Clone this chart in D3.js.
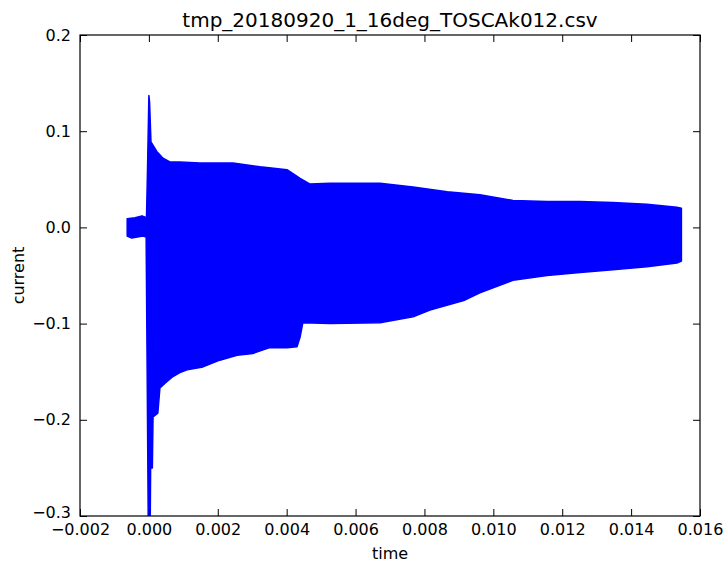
<!doctype html>
<html lang="en">
<head>
<meta charset="utf-8">
<title>tmp_20180920_1_16deg_TOSCAk012.csv</title>
<style>
body { margin: 0; background: #fff; font-family: "DejaVu Sans", sans-serif; }
</style>
</head>
<body>
<div id="chart"></div>
<script src="https://cdnjs.cloudflare.com/ajax/libs/d3/7.8.5/d3.min.js"></script>
<script>
// envelope of the signal (time in s, current)
var upperTime = [-0.00063, -0.0004, -0.0002, -0.00007, -0.00004, 0.0, 0.00002, 0.00006, 0.00023, 0.00041,
                 0.00061, 0.0009, 0.00148, 0.00244, 0.00323, 0.00401, 0.00439, 0.00468, 0.00526, 0.00671,
                 0.00767, 0.00866, 0.00961, 0.01057, 0.01156, 0.01252, 0.01347, 0.01446, 0.01533, 0.01546];
var upperVal  = [0.009, 0.010, 0.012, 0.010, 0.060, 0.137, 0.130, 0.089, 0.079, 0.072,
                 0.068, 0.068, 0.067, 0.067, 0.063, 0.060, 0.051, 0.045, 0.046, 0.046,
                 0.042, 0.037, 0.034, 0.028, 0.027, 0.027, 0.026, 0.024, 0.021, 0.020];

var lowerTime = [-0.00063, -0.0005, -0.00017, -0.00008, -0.00005, -0.00002, 0.00004, 0.00005, 0.0001, 0.00012,
                 0.00026, 0.00032, 0.00047, 0.0007, 0.0009, 0.00111, 0.00157, 0.00206, 0.00256, 0.00302,
                 0.00351, 0.00401, 0.0043, 0.00439, 0.00447, 0.00526, 0.00671, 0.00767, 0.00816, 0.00914,
                 0.00961, 0.01057, 0.01156, 0.01252, 0.01347, 0.01446, 0.01533, 0.01546];
var lowerVal  = [-0.009, -0.011, -0.009, -0.010, -0.150, -0.300, -0.300, -0.250, -0.250, -0.197,
                 -0.193, -0.167, -0.162, -0.155, -0.151, -0.148, -0.145, -0.138, -0.133, -0.131,
                 -0.125, -0.125, -0.124, -0.114, -0.099, -0.100, -0.099, -0.093, -0.086, -0.076,
                 -0.068, -0.055, -0.050, -0.047, -0.044, -0.041, -0.037, -0.035];

var xTicks = [-0.002, 0.0, 0.002, 0.004, 0.006, 0.008, 0.010, 0.012, 0.014, 0.016];
var yTicks = [-0.3, -0.2, -0.1, 0.0, 0.1, 0.2];

var width = 725, height = 565;
var margin = {top: 35, right: 25, bottom: 49, left: 80};

var svg = d3.select("#chart").append("svg")
    .attr("width", width)
    .attr("height", height);

var x = d3.scaleLinear().domain([-0.002, 0.016]).range([margin.left, width - margin.right]);
var y = d3.scaleLinear().domain([-0.3, 0.2]).range([height - margin.bottom, margin.top]);

// build outline: upper edge forward, lower edge back
var outline = upperTime.map(function(t, i) { return [x(t), y(upperVal[i])]; });
for (var i = lowerTime.length - 1; i >= 0; i--) {
    outline.push([x(lowerTime[i]), y(lowerVal[i])]);
}

svg.append("clipPath").attr("id", "clip")
  .append("rect")
    .attr("x", margin.left).attr("y", margin.top)
    .attr("width", width - margin.left - margin.right)
    .attr("height", height - margin.top - margin.bottom);

svg.append("path")
    .attr("clip-path", "url(#clip)")
    .attr("d", d3.line()(outline) + "Z")
    .style("fill", "#0000ff")
    .style("stroke", "#0000ff")
    .style("stroke-width", 1.5)
    .style("stroke-linejoin", "round");

var fmtX = function(d) { return d3.format(".3f")(d).replace("-", "\u2212"); };
var fmtY = function(d) { return d3.format(".1f")(d).replace("-", "\u2212"); };

// axes: ticks point inward, on all four sides
function styleAxis(g) {
    g.select(".domain").remove();
    g.selectAll("text").style("font-family", "DejaVu Sans").style("font-size", "16px").attr("fill", "#000");
    g.selectAll("line").attr("stroke", "#000");
}

svg.append("g")
    .attr("transform", "translate(0," + (height - margin.bottom) + ")")
    .call(d3.axisBottom(x).tickValues(xTicks).tickFormat(fmtX).tickSizeInner(-7).tickPadding(8))
    .call(styleAxis);

svg.append("g")
    .attr("transform", "translate(0," + margin.top + ")")
    .call(d3.axisTop(x).tickValues(xTicks).tickFormat("").tickSizeInner(-7))
    .call(styleAxis);

var yAxisG = svg.append("g")
    .attr("transform", "translate(" + margin.left + ",0)")
    .call(d3.axisLeft(y).tickValues(yTicks).tickFormat(fmtY).tickSizeInner(-7).tickPadding(9))
    .call(styleAxis);

// lift the bottom label a little so it clears the first x label
yAxisG.selectAll(".tick text")
    .filter(function(d) { return d === yTicks[0]; })
    .attr("dy", "0.1em");

svg.append("g")
    .attr("transform", "translate(" + (width - margin.right) + ",0)")
    .call(d3.axisRight(y).tickValues(yTicks).tickFormat("").tickSizeInner(-7))
    .call(styleAxis);

svg.append("rect")
    .attr("x", margin.left).attr("y", margin.top)
    .attr("width", width - margin.left - margin.right)
    .attr("height", height - margin.top - margin.bottom)
    .style("fill", "none")
    .style("stroke", "#000")
    .style("stroke-width", 1.2);

svg.append("text")
    .attr("x", (margin.left + width - margin.right) / 2)
    .attr("y", 27)
    .attr("text-anchor", "middle")
    .style("font-size", "20px")
    .text("tmp_20180920_1_16deg_TOSCAk012.csv");

svg.append("text")
    .attr("x", (margin.left + width - margin.right) / 2)
    .attr("y", 559)
    .attr("text-anchor", "middle")
    .style("font-size", "16px")
    .text("time");

svg.append("text")
    .attr("transform", "translate(24," + ((margin.top + height - margin.bottom) / 2) + ") rotate(-90)")
    .attr("text-anchor", "middle")
    .style("font-size", "16px")
    .text("current");
</script>
</body>
</html>
